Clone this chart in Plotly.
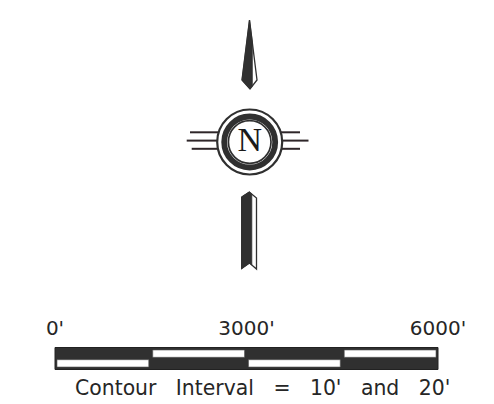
import plotly.graph_objects as go

# page is rendered with an 8px body margin; the figure occupies page pixels 8..494 / 8..404
PAGE_W, PAGE_H, OFF = 494, 404, 8

# ---- scale bar data ----
scale_ticks_ft = [0, 3000, 6000]
scale_tick_labels = ["0'", "3000'", "6000'"]
segment_edges_ft = [0, 1500, 3000, 4500, 6000]
segment_white_row = ["bottom", "top", "bottom", "top"]
contour_words = ["Contour", "Interval", "=", "10'", "and", "20'"]
north_label = "N"

DARK = "#303030"
FONT = "DejaVu Sans"

# layout constants (page pixel space)
bar_left_px, bar_right_px = 55, 438
bar_top, bar_mid, bar_bot = 347.5, 358.5, 369.5
px_per_ft = (bar_right_px - bar_left_px) / (segment_edges_ft[-1] - segment_edges_ft[0])
x2_range = [(OFF - bar_left_px) / px_per_ft, (PAGE_W - bar_left_px) / px_per_ft]
inset_ft = 2.0 / px_per_ft

shapes = []

# outer dark bar
shapes.append(dict(type="rect", xref="x2", yref="y", layer="below",
                   x0=segment_edges_ft[0], x1=segment_edges_ft[-1],
                   y0=bar_top, y1=bar_bot, fillcolor=DARK,
                   line=dict(color="#222222", width=1)))
for i, row in enumerate(segment_white_row):
    a, b = segment_edges_ft[i], segment_edges_ft[i + 1]
    if row == "top":
        y0, y1 = bar_top + 2.5, bar_mid - 1.2
    else:
        y0, y1 = bar_mid + 1.2, bar_bot - 2.5
    shapes.append(dict(type="rect", xref="x2", yref="y", layer="below",
                       x0=a + inset_ft, x1=b - inset_ft, y0=y0, y1=y1,
                       fillcolor="white", line=dict(color="#555555", width=0.6)))

# ---- north arrow (page pixel space) ----
cx, cy = 249.7, 142.0
shapes.append(dict(type="path", xref="x", yref="y", layer="below",
                   path="M249.5,20 L242,80 L250,89 L257,80 Z",
                   fillcolor="white", line=dict(color=DARK, width=1.3)))
shapes.append(dict(type="path", xref="x", yref="y", layer="below",
                   path="M249.5,20 L242,80 L250,89 L252.3,86 L252.3,42 Z",
                   fillcolor=DARK, line=dict(color=DARK, width=0.8)))
shapes.append(dict(type="path", xref="x", yref="y", layer="below",
                   path="M241.7,197 L249.3,192 L256.5,198 L256.5,269 L249.5,263 L241.7,268.5 Z",
                   fillcolor="white", line=dict(color=DARK, width=1.3)))
shapes.append(dict(type="path", xref="x", yref="y", layer="below",
                   path="M241.7,197 L249.3,192 L251.8,194 L251.8,265 L249.5,263 L241.7,268.5 Z",
                   fillcolor=DARK, line=dict(color=DARK, width=0.8)))

# side lines
line_specs = [
    (132.3, 190.0, 218.8, 281.0, 300.0),
    (140.6, 186.7, 217.0, 282.5, 308.5),
    (148.8, 191.7, 218.5, 281.0, 300.0),
]
for y, lx0, lx1, rx0, rx1 in line_specs:
    shapes.append(dict(type="line", xref="x", yref="y", layer="below",
                       x0=lx0, x1=lx1, y0=y, y1=y, line=dict(color="#2e2629", width=2)))
    shapes.append(dict(type="line", xref="x", yref="y", layer="below",
                       x0=rx0, x1=rx1, y0=y, y1=y, line=dict(color="#2e2629", width=2)))

def ring(r, width, fill="rgba(0,0,0,0)"):
    return dict(type="circle", xref="x", yref="y", layer="below",
                x0=cx - r, x1=cx + r, y0=cy - r, y1=cy + r,
                fillcolor=fill, line=dict(color=DARK, width=width))

shapes.append(ring(32.5, 2.2, fill="white"))
shapes.append(ring(25.5, 5.8))
shapes.append(ring(21.3, 1.7))

fig = go.Figure()
fig.add_trace(go.Scatter(x=[cx], y=[cy], mode="text", text=[north_label],
                         textfont=dict(family="Liberation Serif", size=34, color="#1a1a1a"),
                         textposition="middle center", hoverinfo="skip", showlegend=False))
fig.add_trace(go.Scatter(x=scale_ticks_ft, y=[330] * len(scale_ticks_ft), xaxis="x2", yaxis="y",
                         mode="text", text=scale_tick_labels,
                         textfont=dict(family=FONT, size=20, color="#262626"),
                         textposition="middle center", hoverinfo="skip", showlegend=False))

contour_text = "\u00a0\u00a0\u00a0".join(contour_words)

fig.update_layout(
    width=PAGE_W - OFF, height=PAGE_H - OFF,
    margin=dict(l=0, r=0, t=0, b=0),
    paper_bgcolor="white", plot_bgcolor="white",
    xaxis=dict(range=[OFF, PAGE_W], visible=False, fixedrange=True),
    yaxis=dict(range=[PAGE_H, OFF], visible=False, fixedrange=True),
    xaxis2=dict(range=x2_range, overlaying="x", visible=False, fixedrange=True),
    shapes=shapes,
    annotations=[dict(x=262.5, y=388, xref="x", yref="y",
                      text=contour_text, showarrow=False,
                      font=dict(family=FONT, size=20.4, color="#262626"),
                      xanchor="center", yanchor="middle")],
    showlegend=False,
)

fig.write_html("out.html")
